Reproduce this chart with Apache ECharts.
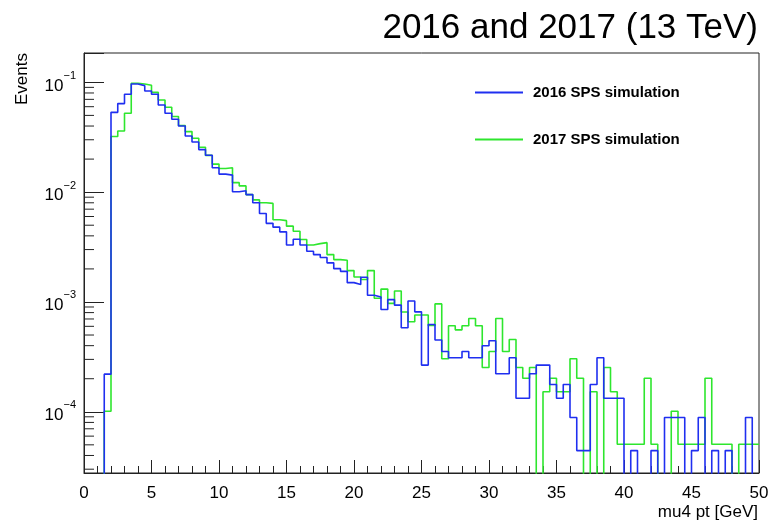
<!DOCTYPE html>
<html>
<head>
<meta charset="utf-8">
<script src="https://cdn.jsdelivr.net/npm/echarts@6/dist/echarts.min.js"></script>
<style>
  html, body { margin: 0; padding: 0; background: #fff; }
  #chart { width: 772px; height: 524px; }
</style>
</head>
<body>
<div id="chart"></div>
<script>
// mu4 pt spectrum, 100 bins of 0.5 GeV from 0 to 50 GeV (normalised events per bin)
const binWidth = 0.5;
const xMin = 0, xMax = 50;
const yMin = 2.77e-5, yMax = 0.185;

const seriesNames = ['2016 SPS simulation', '2017 SPS simulation'];

const events2016 = [
  0, 0, 0, 2.2e-4, 0.0533, 0.064, 0.0778, 0.0966, 0.0933, 0.0834,
  0.0778, 0.0622, 0.0523, 0.0461, 0.0400, 0.0325, 0.0286, 0.0244, 0.0217, 0.0167,
  0.0146, 0.0143, 0.0101, 0.0103, 0.0095, 0.0080, 0.0064, 0.0052, 0.0048, 0.00435,
  0.0033, 0.00373, 0.0033, 0.0029, 0.0027, 0.00254, 0.00227, 0.00201, 0.0019, 0.0015,
  0.00144, 0.00168, 0.00115, 0.00111, 0.000855, 0.00105, 0.000935, 0.000582, 0.00102, 0.000813,
  0.000266, 0.000624, 0.00045, 0.000354, 0.00031, 0.00031, 0.000354, 0.00031, 0.00031, 0.000399,
  0.000443, 0.000222, 0.000222, 0.00031, 0.000133, 0.000133, 0.000222, 0.000266, 0.000266, 0.000177,
  0.000133, 0.000177, 0.0000886, 0.0000443, 0.0000443, 0.000177, 0.00031, 0.000133, 0.000133, 0.000133,
  0, 0.0000443, 0, 0, 0.0000443, 0, 0.0000886, 0.0000886, 0.0000886, 0,
  0.0000443, 0.0000886, 0, 0.0000443, 0, 0.0000443, 0, 0, 0.0000886, 0
];

const events2017 = [
  0, 0, 0, 1.01e-4, 0.0321, 0.0361, 0.0523, 0.098, 0.0966, 0.0939,
  0.0811, 0.0691, 0.0593, 0.0488, 0.0404, 0.0356, 0.0310, 0.0256, 0.0216, 0.0180,
  0.0164, 0.0167, 0.0122, 0.0114, 0.0095, 0.0085, 0.0080, 0.0079, 0.0056, 0.0055,
  0.0049, 0.0044, 0.0037, 0.0033, 0.0034, 0.00347, 0.0027, 0.00243, 0.0024, 0.00193,
  0.00169, 0.00160, 0.00193, 0.00108, 0.00131, 0.00097, 0.00126, 0.00081, 0.00066, 0.00076,
  0.00076, 0.00061, 0.00096, 0.000304, 0.000607, 0.000557, 0.000607, 0.000708, 0.000607, 0.000253,
  0.000354, 0.000708, 0.000354, 0.000455, 0.000253, 0.000202, 0.000253, 0, 0.000152, 0.000202,
  0.000152, 0.000152, 0.000304, 0.000202, 0, 0.000152, 0, 0.000253, 0.000152, 0.0000506,
  0.0000506, 0.0000506, 0.0000506, 0.000202, 0.0000506, 0, 0, 0.000101, 0.0000506, 0.0000506,
  0.0000506, 0.0000506, 0.000202, 0.0000506, 0.0000506, 0.0000506, 0, 0.0000506, 0.0000506, 0.0000506
];

const lineColors = ['#1f2ff0', '#2ee62e'];
const FONT = 'Liberation Sans, Arial, Helvetica, sans-serif';

// Empty bins sit below the visible log range so the outline drops out of the frame.
const FLOOR = 1e-7;

// Histogram outline: one point per bin's left edge plus the closing right edge.
function histPoints(values) {
  const pts = values.map((v, i) => [xMin + i * binWidth, v > 0 ? v : FLOOR]);
  const last = values[values.length - 1];
  pts.push([xMin + values.length * binWidth, last > 0 ? last : FLOOR]);
  return pts;
}

// Minor tick positions of the log axis (2..9 x 10^k).
const minorTickValues = [];
for (let k = -6; k <= 0; k++) {
  for (let d = 2; d <= 9; d++) {
    const v = d * Math.pow(10, k);
    if (v > yMin && v < yMax) minorTickValues.push(v);
  }
}

const chart = echarts.init(document.getElementById('chart'), null, { renderer: 'canvas' });

const option = {
  backgroundColor: '#fff',
  animation: false,
  grid: {
    left: 84, right: 13, top: 53, bottom: 51,
    show: true, borderColor: '#222', borderWidth: 1
  },
  legend: {
    orient: 'vertical',
    left: 475, top: 85, padding: 0,
    icon: 'rect',
    itemWidth: 48, itemHeight: 2, itemGap: 32,
    data: seriesNames,
    textStyle: { fontFamily: FONT, fontSize: 15, fontWeight: 'bold', color: '#000', padding: [0, 0, 0, 5] }
  },
  xAxis: {
    type: 'value', min: xMin, max: xMax, interval: 5,
    axisLine: { lineStyle: { color: '#222', width: 1 } },
    axisTick: { inside: true, length: 13, lineStyle: { color: '#222' } },
    minorTick: { show: true, splitNumber: 5, length: 7, lineStyle: { color: '#222' } },
    splitLine: { show: false },
    axisLabel: { margin: 12, fontFamily: FONT, fontSize: 17, color: '#000' }
  },
  yAxis: {
    type: 'log', logBase: 10, min: yMin, max: yMax, splitNumber: 4,
    axisLine: { lineStyle: { color: '#222', width: 1 } },
    axisTick: { inside: true, length: 20, lineStyle: { color: '#222' } },
    splitLine: { show: false },
    axisLabel: {
      margin: 8,
      formatter: function (v) {
        const e = Math.log10(v);
        const n = Math.round(e);
        if (Math.abs(e - n) > 1e-6) return '';
        return '{b|10}{s|' + (n < 0 ? '\u2212' + (-n) : n) + '}';
      },
      rich: {
        b: { fontFamily: FONT, fontSize: 17, color: '#000', verticalAlign: 'bottom', lineHeight: 24 },
        s: { fontFamily: FONT, fontSize: 11, color: '#000', verticalAlign: 'top', lineHeight: 24 }
      }
    }
  },
  graphic: [
    {
      type: 'text', right: 14, top: 11,
      style: { text: '2016 and 2017 (13 TeV)', fontFamily: FONT, fontSize: 35, fill: '#000' }
    },
    {
      type: 'text', right: 14, top: 504,
      style: { text: 'mu4 pt [GeV]', fontFamily: FONT, fontSize: 17, fill: '#000' }
    },
    {
      type: 'text', left: 14, top: 53, rotation: Math.PI / 2,
      style: { text: 'Events', fontFamily: FONT, fontSize: 17, fill: '#000' }
    }
  ],
  series: [
    {
      name: seriesNames[0], type: 'line', step: 'end', symbol: 'none', clip: true,
      data: histPoints(events2016),
      lineStyle: { color: lineColors[0], width: 1.6 },
      itemStyle: { color: lineColors[0] },
      z: 3
    },
    {
      name: seriesNames[1], type: 'line', step: 'end', symbol: 'none', clip: true,
      data: histPoints(events2017),
      lineStyle: { color: lineColors[1], width: 1.6 },
      itemStyle: { color: lineColors[1] },
      z: 2
    },
    {
      // ROOT-style 2..9 minor ticks on the log axis
      type: 'custom', silent: true, clip: false, z: 4,
      data: minorTickValues.map(v => [xMin, v]),
      renderItem: function (params, api) {
        const p = api.coord([xMin, api.value(1)]);
        return {
          type: 'line',
          shape: { x1: p[0], y1: p[1], x2: p[0] + 10, y2: p[1] },
          style: { stroke: '#222', lineWidth: 1 }
        };
      },
      tooltip: { show: false }
    }
  ]
};

chart.setOption(option);
</script>
</body>
</html>
